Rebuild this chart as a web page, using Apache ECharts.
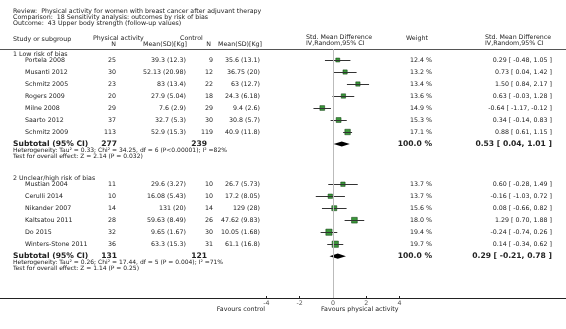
<!DOCTYPE html>
<html>
<head>
<meta charset="utf-8">
<script src="https://cdn.jsdelivr.net/npm/echarts@6/dist/echarts.min.js"></script>
<style>
  html, body { margin: 0; padding: 0; background: #fff; }
  #chart { width: 566px; height: 329px; }
</style>
</head>
<body>
<div id="chart"></div>
<script>
// Upper body strength forest plot, by risk of bias

// 1 Low risk of bias
const lowStudies = ['Portela 2008', 'Musanti 2012', 'Schmitz 2005', 'Rogers 2009', 'Milne 2008', 'Saarto 2012', 'Schmitz 2009'];
const lowNExp = [25, 30, 23, 20, 29, 37, 113];
const lowMeanExp = [39.3, 52.13, 83, 27.9, 7.6, 32.7, 52.9];
const lowSdExp = [12.3, 20.98, 13.4, 5.04, 2.9, 5.3, 15.3];
const lowNCtl = [9, 12, 22, 18, 29, 30, 119];
const lowMeanCtl = [35.6, 36.75, 63, 24.3, 9.4, 30.8, 40.9];
const lowSdCtl = [13.1, 20, 12.7, 6.18, 2.6, 5.7, 11.8];
const lowWeight = [12.4, 13.2, 13.4, 13.6, 14.9, 15.3, 17.1];
const lowSmd = [0.29, 0.73, 1.50, 0.63, -0.64, 0.34, 0.88];
const lowLo = [-0.48, 0.04, 0.84, -0.03, -1.17, -0.14, 0.61];
const lowHi = [1.05, 1.42, 2.17, 1.28, -0.12, 0.83, 1.15];
const lowTotal = { nExp: 277, nCtl: 239, smd: 0.53, lo: 0.04, hi: 1.01,
  het: 'Heterogeneity: Tau\u00b2 = 0.33; Chi\u00b2 = 34.25, df = 6 (P<0.00001); I\u00b2 =82%',
  test: 'Test for overall effect: Z = 2.14 (P = 0.032)' };

// 2 Unclear/high risk of bias
const highStudies = ['Mustian 2004', 'Cerulli 2014', 'Nikander 2007', 'Kaltsatou 2011', 'Do 2015', 'Winters-Stone 2011'];
const highNExp = [11, 10, 14, 28, 32, 36];
const highMeanExp = [29.6, 16.08, 131, 59.63, 9.65, 63.3];
const highSdExp = [3.27, 5.43, 20, 8.49, 1.67, 15.3];
const highNCtl = [10, 10, 14, 26, 30, 31];
const highMeanCtl = [26.7, 17.2, 129, 47.62, 10.05, 61.1];
const highSdCtl = [5.73, 8.05, 28, 9.83, 1.68, 16.8];
const highWeight = [13.7, 13.7, 15.6, 18.0, 19.4, 19.7];
const highSmd = [0.60, -0.16, 0.08, 1.29, -0.24, 0.14];
const highLo = [-0.28, -1.03, -0.66, 0.70, -0.74, -0.34];
const highHi = [1.49, 0.72, 0.82, 1.88, 0.26, 0.62];
const highTotal = { nExp: 131, nCtl: 121, smd: 0.29, lo: -0.21, hi: 0.78,
  het: 'Heterogeneity: Tau\u00b2 = 0.26; Chi\u00b2 = 17.44, df = 5 (P = 0.004); I\u00b2 =71%',
  test: 'Test for overall effect: Z = 1.14 (P = 0.25)' };

const axisTicks = [-4, -2, 0, 2, 4];

const groups = [
  { label: '1 Low risk of bias', start: 0, studies: lowStudies, nExp: lowNExp, meanExp: lowMeanExp, sdExp: lowSdExp,
    nCtl: lowNCtl, meanCtl: lowMeanCtl, sdCtl: lowSdCtl, weight: lowWeight, smd: lowSmd, lo: lowLo, hi: lowHi, total: lowTotal },
  { label: '2 Unclear/high risk of bias', start: 10.35, studies: highStudies, nExp: highNExp, meanExp: highMeanExp, sdExp: highSdExp,
    nCtl: highNCtl, meanCtl: highMeanCtl, sdCtl: highSdCtl, weight: highWeight, smd: highSmd, lo: highLo, hi: highHi, total: highTotal }
];

const FONT = '"DejaVu Sans", Verdana, sans-serif';
const TXT = '#222';
const fs = 6.3;

function ci(e, l, h) {
  return e.toFixed(2) + ' [ ' + l.toFixed(2) + ', ' + h.toFixed(2) + ' ]';
}

// text cells: column pixel x, row (axis units), text, align, bold
let cells = [];
let points = [];   // squares
let bars = [];     // CI lines
let diamonds = []; // subtotals
groups.forEach(g => {
  cells.push({ x: 13, r: g.start - 0.5, t: g.label, a: 'left' });
  g.studies.forEach((s, i) => {
    const r = g.start + i;
    cells.push({ x: 25, r, t: s, a: 'left' });
    cells.push({ x: 116, r, t: String(g.nExp[i]), a: 'right' });
    cells.push({ x: 186, r, t: g.meanExp[i] + ' (' + g.sdExp[i] + ')', a: 'right' });
    cells.push({ x: 213, r, t: String(g.nCtl[i]), a: 'right' });
    cells.push({ x: 260, r, t: g.meanCtl[i] + ' (' + g.sdCtl[i] + ')', a: 'right' });
    cells.push({ x: 432, r, t: g.weight[i].toFixed(1) + ' %', a: 'right' });
    cells.push({ x: 552, r, t: ci(g.smd[i], g.lo[i], g.hi[i]), a: 'right' });
    points.push([g.smd[i], r, g.weight[i]]);
    bars.push([g.lo[i], g.hi[i], r]);
  });
  const rs = g.start + g.studies.length;
  cells.push({ x: 13, r: rs, t: 'Subtotal (95% CI)', a: 'left', b: true });
  cells.push({ x: 117, r: rs, t: String(g.total.nExp), a: 'right', b: true });
  cells.push({ x: 207, r: rs, t: String(g.total.nCtl), a: 'right', b: true });
  cells.push({ x: 432, r: rs, t: '100.0 %', a: 'right', b: true });
  cells.push({ x: 552, r: rs, t: ci(g.total.smd, g.total.lo, g.total.hi), a: 'right', b: true });
  cells.push({ x: 13, r: rs + 0.55, t: g.total.het, a: 'left', s: 6 });
  cells.push({ x: 13, r: rs + 1.0, t: g.total.test, a: 'left', s: 6 });
  diamonds.push([g.total.lo, g.total.smd, g.total.hi, rs]);
});

const chart = echarts.init(document.getElementById('chart'), null, { renderer: 'canvas' });

const hdr = (x, y, text, align) => ({
  type: 'text', x, y,
  style: { text, x: 0, y: 0, fill: TXT, font: fs + 'px ' + FONT, textAlign: align || 'left', textVerticalAlign: 'middle' }
});

chart.setOption({
  animation: false,
  backgroundColor: '#fff',
  grid: { left: 0, right: 0, top: 49, bottom: 31 },
  xAxis: [{
    type: 'value', min: -20, max: 14, position: 'bottom',
    axisLine: { show: true, onZero: false, lineStyle: { color: '#222', width: 1 } },
    axisTick: { show: true, inside: true, length: 2, customValues: axisTicks, lineStyle: { color: '#222' } },
    axisLabel: { customValues: axisTicks, fontSize: fs, fontFamily: FONT, color: '#555', margin: 2 },
    splitLine: { show: false }
  }, {
    type: 'value', min: -20, max: 14, position: 'top',
    axisLine: { show: true, onZero: false, lineStyle: { color: '#555', width: 1 } },
    axisTick: { show: false }, axisLabel: { show: false }, splitLine: { show: false }
  }],
  yAxis: {
    type: 'value', inverse: true, min: -0.9167, max: 19.8333, show: false
  },
  graphic: [
    hdr(13, 11.7, 'Review:  Physical activity for women with breast cancer after adjuvant therapy'),
    hdr(13, 17.5, 'Comparison:  18 Sensitivity analysis: outcomes by risk of bias'),
    hdr(13, 23.3, 'Outcome:  43 Upper body strength (follow-up values)'),
    hdr(13, 39, 'Study or subgroup'),
    hdr(93, 38.5, 'Physical activity'),
    hdr(116, 44.5, 'N', 'right'),
    hdr(187, 44.5, 'Mean(SD)[Kg]', 'right'),
    hdr(180, 38.5, 'Control'),
    hdr(211, 44.5, 'N', 'right'),
    hdr(262, 44.5, 'Mean(SD)[Kg]', 'right'),
    hdr(306, 37.7, 'Std. Mean Difference'),
    hdr(306, 43.3, 'IV,Random,95% CI'),
    hdr(406, 38, 'Weight'),
    hdr(485, 37.7, 'Std. Mean Difference'),
    hdr(485, 43.3, 'IV,Random,95% CI'),
    hdr(265, 309, 'Favours control', 'right'),
    hdr(321, 309, 'Favours physical activity')
  ],
  series: [
    {
      // reference line at zero
      type: 'line', data: [], silent: true,
      markLine: {
        symbol: 'none', silent: true, label: { show: false },
        lineStyle: { color: '#bbb', width: 1, type: 'solid' },
        data: [{ xAxis: 0 }]
      }
    },
    {
      type: 'scatter', symbol: 'rect', z: 3,
      data: points,
      symbolSize: v => v[2] * 0.32,
      itemStyle: { color: '#0a7d0a', borderColor: '#033003', borderWidth: 0.6 }
    },
    {
      type: 'custom', z: 4,
      data: bars,
      renderItem: (params, api) => {
        const a = api.coord([api.value(0), api.value(2)]);
        const b = api.coord([api.value(1), api.value(2)]);
        return { type: 'line', shape: { x1: a[0], y1: Math.round(a[1]) + 0.5, x2: b[0], y2: Math.round(b[1]) + 0.5 },
          style: { stroke: '#333', lineWidth: 1 } };
      }
    },
    {
      type: 'custom', z: 4,
      data: diamonds,
      renderItem: (params, api) => {
        const l = api.coord([api.value(0), api.value(3)]);
        const m = api.coord([api.value(1), api.value(3)]);
        const h = api.coord([api.value(2), api.value(3)]);
        const d = 2.6;
        return { type: 'polygon', shape: { points: [[l[0], l[1]], [m[0], m[1] - d], [h[0], h[1]], [m[0], m[1] + d]] },
          style: { fill: '#000' } };
      }
    },
    {
      type: 'custom', z: 5, silent: true,
      data: cells.map(c => [0, c.r]),
      renderItem: (params, api) => {
        const c = cells[params.dataIndex];
        const y = api.coord([0, c.r])[1];
        const size = c.b ? 7.6 : (c.s || fs);
        return { type: 'text', x: c.x, y,
          style: { text: c.t, fill: TXT, textAlign: c.a, textVerticalAlign: 'middle',
            font: (c.b ? 'bold ' : '') + size + 'px ' + FONT } };
      }
    }
  ]
});
</script>
</body>
</html>
